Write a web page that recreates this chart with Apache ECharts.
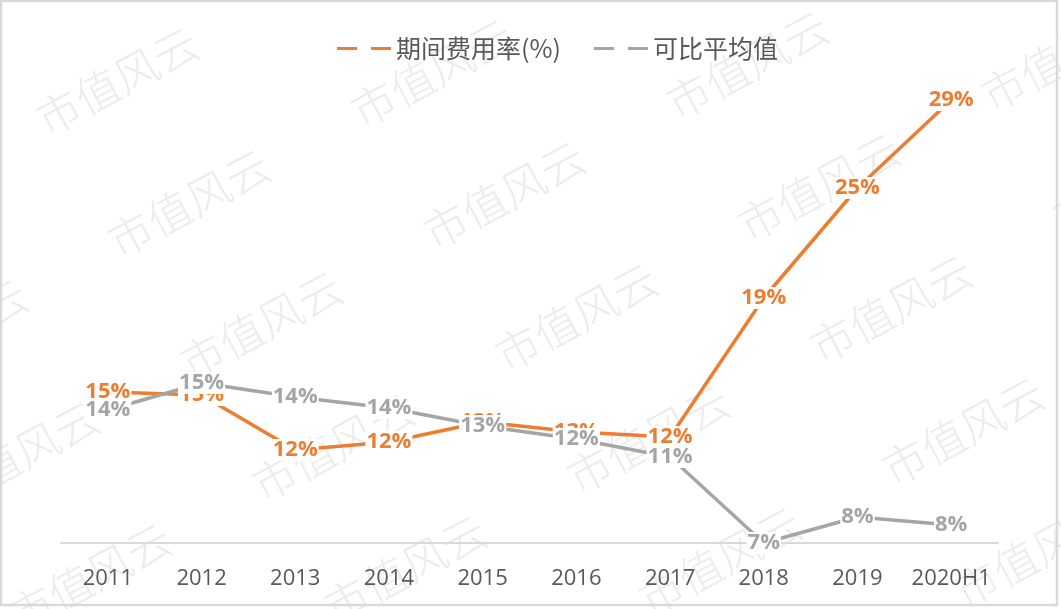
<!DOCTYPE html>
<html>
<head>
<meta charset="utf-8">
<script src="https://cdn.jsdelivr.net/npm/echarts@6/dist/echarts.min.js"></script>
<style>
  html, body { margin: 0; padding: 0; background: #fff; }
  #main { width: 1061px; height: 609px; }
</style>
</head>
<body>
<div id="main"></div>
<script>
// categories on the x axis
const years = ['2011', '2012', '2013', '2014', '2015', '2016', '2017', '2018', '2019', '2020H1'];
// 期间费用率(%), labels are rounded
const expenseRate = [14.7, 14.55, 11.8, 12.2, 13.2, 12.7, 12.45, 19.4, 24.9, 29.3];
// 可比平均值
const peerAverage = [13.8, 15.15, 14.45, 13.9, 13.0, 12.35, 11.45, 7.15, 8.45, 8.05];

const seriesNames = ['期间费用率(%)', '可比平均值'];
const seriesColors = ['#ED7D31', '#A5A5A5'];

// watermark "市值风云" repeated on a slanted grid
const watermarks = [];
for (let r = -2; r <= 5; r++) {
  for (let c = -2; c <= 4; c++) {
    const x = 117 + c * 315 + r * 72;
    const y = 81 - c * 8 + r * 122;
    if (x < -150 || x > 1220 || y < -80 || y > 700) continue;
    watermarks.push({
      type: 'text',
      x: x,
      y: y,
      rotation: 0.49,
      z: 0,
      silent: true,
      style: {
        text: '市值风云',
        fill: '#ececec',
        font: '300 44px "Noto Sans CJK SC"',
        align: 'center',
        verticalAlign: 'middle'
      }
    });
  }
}

const chart = echarts.init(document.getElementById('main'));

const labelFor = (color) => ({
  show: true,
  position: 'inside',
  color: color,
  fontFamily: 'Open Sans',
  fontWeight: 'bold',
  fontSize: 22,
  backgroundColor: '#fff',
  padding: [0, 1],
  formatter: p => Math.round(p.value) + '%'
});

chart.setOption({
  animation: false,
  graphic: watermarks.concat([{
    type: 'rect',
    silent: true,
    z: 0,
    shape: { x: 1, y: 1, width: 1056, height: 604 },
    style: { fill: 'none', stroke: '#d9d9d9', lineWidth: 2.5 }
  }]),
  legend: {
    top: 31,
    left: 332,
    itemGap: 33,
    itemWidth: 54,
    itemHeight: 3,
    icon: 'path://M0,0H20V3H0Z M34,0H54V3H34Z',
    textStyle: {
      color: '#595959',
      fontSize: 25,
      fontFamily: 'Noto Sans CJK SC'
    },
    data: seriesNames
  },
  grid: {
    left: 61,
    right: 63,
    top: 50,
    bottom: 66
  },
  xAxis: {
    type: 'category',
    boundaryGap: true,
    data: years,
    axisLine: { lineStyle: { color: '#d9d9d9', width: 2 } },
    axisTick: { show: false },
    axisLabel: {
      interval: 0,
      color: '#595959',
      fontSize: 22,
      fontFamily: 'Open Sans',
      margin: 25
    }
  },
  yAxis: {
    type: 'value',
    min: 7.15,
    max: 31.8,
    show: false,
    splitLine: { show: false }
  },
  series: [
    {
      name: seriesNames[0],
      type: 'line',
      data: expenseRate,
      clip: false,
      symbol: 'circle',
      symbolSize: 2,
      color: seriesColors[0],
      lineStyle: { width: 3.5, color: seriesColors[0] },
      label: labelFor(seriesColors[0]),
      emphasis: { disabled: true }
    },
    {
      name: seriesNames[1],
      type: 'line',
      data: peerAverage,
      clip: false,
      symbol: 'circle',
      symbolSize: 2,
      color: seriesColors[1],
      lineStyle: { width: 3.5, color: seriesColors[1] },
      label: labelFor(seriesColors[1]),
      emphasis: { disabled: true }
    }
  ]
});
</script>
</body>
</html>
